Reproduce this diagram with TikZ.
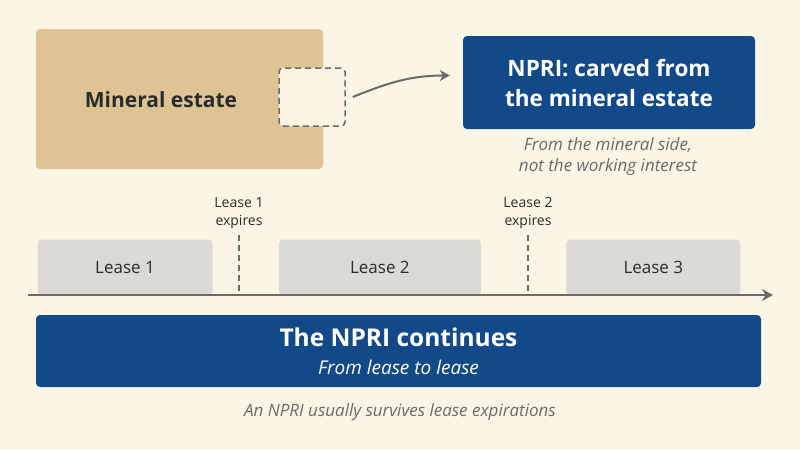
\documentclass[tikz,border=0pt]{standalone}
\usepackage{fontspec}
\setmainfont{Open Sans}
\usetikzlibrary{positioning,arrows.meta}
\definecolor{paper}{HTML}{FBF5E5}
\definecolor{tan}{HTML}{DEC494}
\definecolor{npriblue}{HTML}{124A89}
\definecolor{leasegray}{HTML}{DCDAD5}
\definecolor{linegray}{HTML}{6B6B6B}
\definecolor{inkdark}{HTML}{2B2B2B}

\begin{document}
\begin{tikzpicture}[x=1pt,y=-1pt,
  box/.style={rectangle, inner sep=0pt, rounded corners=4pt},
  lease/.style={box, fill=leasegray, minimum height=56pt, text=inkdark, font=\fontsize{17}{19}\selectfont},
  note/.style={align=center, inner sep=0pt, text=linegray, font=\fontsize{17}{21}\selectfont\itshape},
  expiry/.style={linegray, line width=1.5pt, dash pattern=on 6pt off 4pt},
  expirylabel/.style={align=center, inner sep=0pt, text=inkdark, font=\fontsize{14}{18}\selectfont}]
\fill [paper] (0,0) rectangle (800,450);
\useasboundingbox (0,0) rectangle (800,450);

\node (mineral) at (179.5,99) [box, fill=tan, minimum width=287pt, minimum height=140pt] {};
\node (mintext) at (161,100) [text=inkdark, font=\fontsize{21}{25}\selectfont\bfseries] {Mineral estate};
\node (cut) at (312,97) [box, fill=paper, draw=linegray, line width=1.5pt, dash pattern=on 6pt off 4pt, minimum width=66pt, minimum height=58pt] {};

\node (npri) at (609,82.5) [box, fill=npriblue, minimum width=292pt, minimum height=93pt, align=center, text=white, font=\fontsize{22.5}{30}\selectfont\bfseries] {NPRI: carved from\\the mineral estate};
\node (side) at (608,157) [note] {From the mineral side,\\not the working interest};
\draw [linegray, line width=2pt, -{Stealth[length=10pt,width=11pt]}] ([xshift=7pt]cut.east) to[out=22,in=180] ([xshift=-13pt,yshift=7pt]npri.west);

% Leases
\node (lease1) at (125,267.5) [lease, minimum width=175pt] {Lease 1};
\node (lease2) [lease, right=66pt of lease1, minimum width=202pt] {Lease 2};
\node (lease3) [lease, right=85pt of lease2, minimum width=174pt] {Lease 3};

\coordinate (tstart) at (28,295);
\coordinate (tend) at (773,295);
\draw [linegray, line width=2.5pt, -{Stealth[length=11pt,width=12pt]}] (tstart) -- (tend);

\coordinate (exp1top) at (239,235);
\coordinate (exp2top) at (528,235);
\draw [expiry] (exp1top) -- (exp1top |- tstart);
\draw [expiry] (exp2top) -- (exp2top |- tstart);
\node (exp1) [expirylabel, above=6pt of exp1top] {Lease 1\\expires};
\node (exp2) [expirylabel, above=6pt of exp2top] {Lease 2\\expires};

\node (cont) at (398.5,351) [box, fill=npriblue, minimum width=725pt, minimum height=72pt, align=center, text=white, font=\fontsize{19}{28}\selectfont] {{\fontsize{24.5}{28}\selectfont\bfseries The NPRI continues}\\{\itshape From lease to lease}};
\node (caption) at (400,412) [note] {An NPRI usually survives lease expirations};

\end{tikzpicture}
\end{document}
